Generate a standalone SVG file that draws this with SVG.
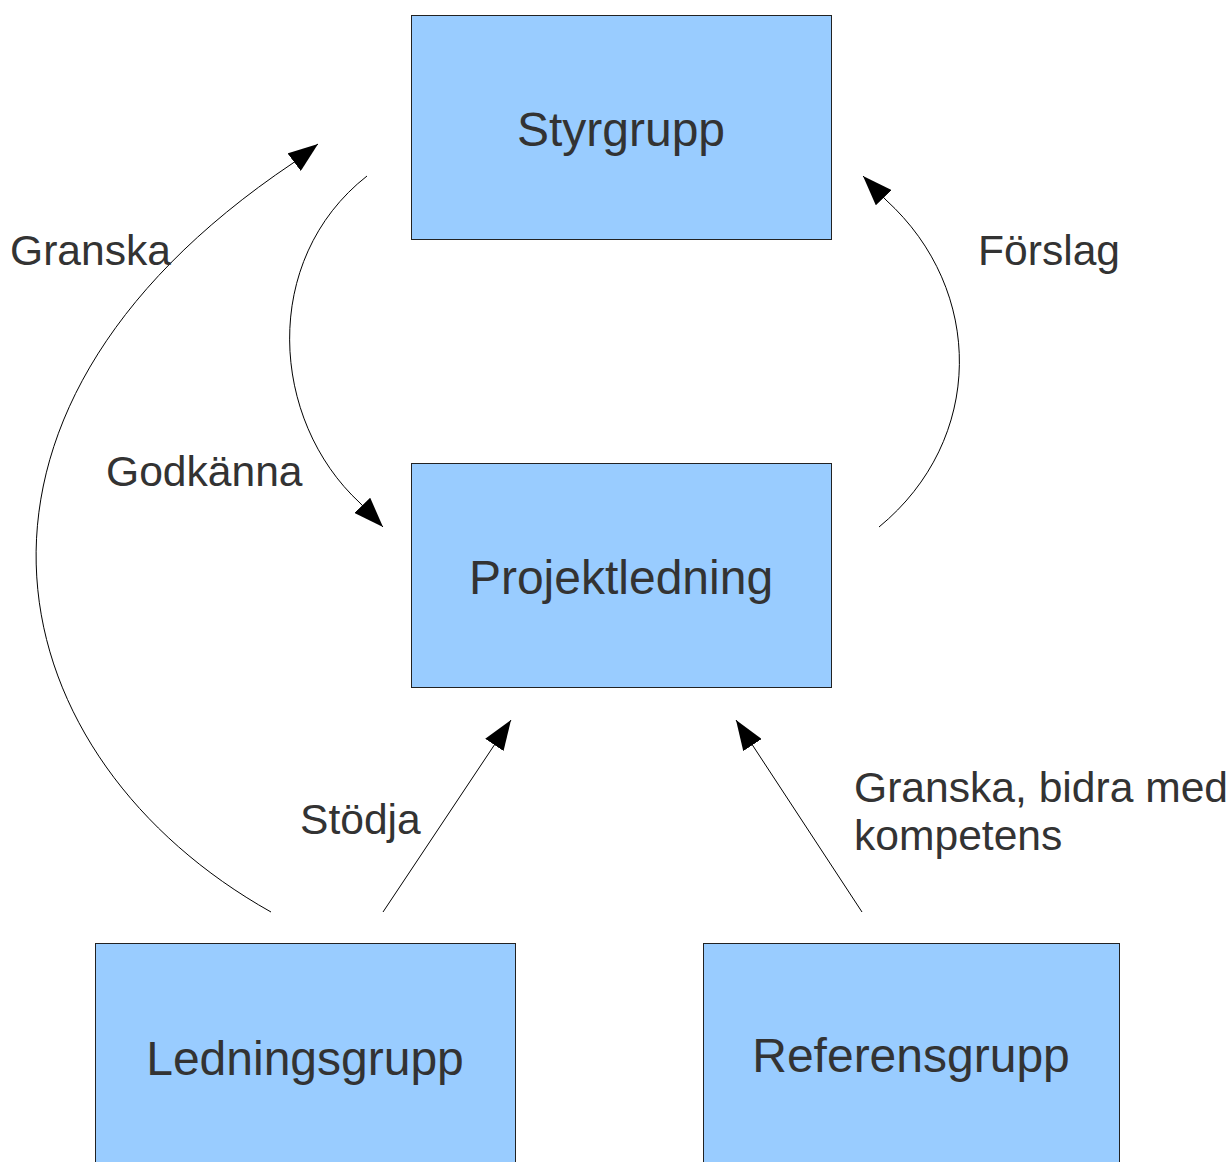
<svg xmlns="http://www.w3.org/2000/svg" width="1231" height="1162" viewBox="0 0 1231 1162">
<style>
.box{fill:#99ccff;stroke:#222;stroke-width:1}
.nt{font-family:"Liberation Sans",Arial,sans-serif;font-size:48px;fill:#333;text-anchor:middle}
.lb{font-family:"Liberation Sans",Arial,sans-serif;font-size:42.6px;fill:#333}
.c{fill:none;stroke:#000;stroke-width:1}
</style>
<defs>
<marker id="ah" markerUnits="userSpaceOnUse" viewBox="0 0 30 22" refX="30" refY="11" markerWidth="30" markerHeight="22" orient="auto">
<path d="M0,0 L30,11 L0,22 Z" fill="#000"/>
</marker>
</defs>
<rect width="1231" height="1162" fill="#fff"/>
<g id="styrgrupp"><rect class="box" x="411.5" y="15.5" width="420" height="224"/><text class="nt" x="621" y="146">Styrgrupp</text></g>
<g id="projektledning"><rect class="box" x="411.5" y="463.5" width="420" height="224"/><text class="nt" x="621" y="594">Projektledning</text></g>
<g id="ledningsgrupp"><rect class="box" x="95.5" y="943.5" width="420" height="230"/><text class="nt" x="305" y="1075">Ledningsgrupp</text></g>
<g id="referensgrupp"><rect class="box" x="703.5" y="943.5" width="416" height="230"/><text class="nt" x="911" y="1072">Referensgrupp</text></g>
<g id="connectors">
<path class="c" d="M271,912 C0,760 -90,420 293,163 L318,144" marker-end="url(#ah)"/>
<path class="c" d="M367,176 C260,260 270,420 360,503 L383,527" marker-end="url(#ah)"/>
<path class="c" d="M879,527 C985,440 985,290 886,200 L863,176" marker-end="url(#ah)"/>
<path class="c" d="M383,912 L511,720" marker-end="url(#ah)"/>
<path class="c" d="M862,912 L736,720" marker-end="url(#ah)"/>
</g>
<g id="labels">
<text class="lb" x="10" y="265">Granska</text>
<text class="lb" x="106" y="486">Godkänna</text>
<text class="lb" x="978" y="265">Förslag</text>
<text class="lb" x="300" y="834">Stödja</text>
<text class="lb" x="854" y="802">Granska, bidra med</text>
<text class="lb" x="854" y="850">kompetens</text>
</g>
</svg>
